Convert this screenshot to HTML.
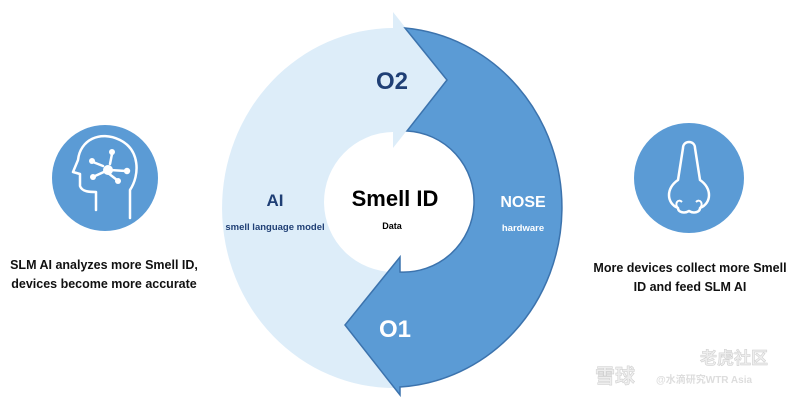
<!DOCTYPE html>
<html><head><meta charset="utf-8"><style>
html,body{margin:0;padding:0;background:#fff;}
svg{display:block;}
text{font-family:"Liberation Sans","Noto Sans CJK SC",sans-serif;font-weight:bold;}
</style></head><body>
<svg width="796" height="403" viewBox="0 0 796 403" xmlns="http://www.w3.org/2000/svg">
<rect width="796" height="403" fill="#fff"/>
<!-- light arrow -->
<path d="M393,28 L393,12 L447,80 L393,148 L393,132 A70 70 0 0 0 395,272 L395,388 A172 180 0 0 1 393,28 Z" fill="#ddedf9"/>
<!-- dark arrow -->
<path d="M405,28 L447,80 L407,131 A70 70 0 0 1 400,272 L400,257 L345,325 L400,395 L400,387 A172 180 0 0 0 405,28 Z" fill="#5b9bd5" stroke="#3c73ad" stroke-width="1.5"/>
<text x="392" y="89" font-size="24" fill="#1f3f75" text-anchor="middle">O2</text>
<text x="395" y="337" font-size="24" fill="#fff" text-anchor="middle">O1</text>
<text x="395" y="206" font-size="22" fill="#000" text-anchor="middle">Smell ID</text>
<text x="392" y="229" font-size="9" fill="#000" text-anchor="middle">Data</text>
<text x="275" y="206" font-size="17" fill="#1f3f75" text-anchor="middle">AI</text>
<text x="275" y="230" font-size="9.5" fill="#1f3f75" text-anchor="middle">smell language model</text>
<text x="523" y="207" font-size="16" fill="#fff" text-anchor="middle">NOSE</text>
<text x="523" y="231" font-size="9.5" fill="#fff" text-anchor="middle">hardware</text>
<!-- left circle -->
<circle cx="105" cy="178" r="53" fill="#5b9bd5"/>
<g fill="none" stroke="#fff" stroke-width="2.5" stroke-linecap="round" stroke-linejoin="round">
<path d="M130,218 L130,190 C140,175 140,150 120,140 C100,130 80,140 78,160 L73,172 L80,174 L80,186 C82,192 90,192 96,192 L96,210"/>
<path d="M110,164 L112,154 M110,170 L126,171 M106,171 L95,176 M103,166 L93,162 M108,173 L117,180"/>
</g>
<g fill="#fff"><circle cx="108" cy="170" r="5"/><circle cx="112" cy="152" r="3"/><circle cx="127" cy="171" r="3.2"/><circle cx="93" cy="177" r="3"/><circle cx="92" cy="161" r="3"/><circle cx="118" cy="181" r="3"/></g>
<!-- right circle -->
<circle cx="689" cy="178" r="55" fill="#5b9bd5"/>
<path d="M683,148 C683,140 695,140 695,148 L700,180 C712,188 712,203 700,208 C700,212 694,214 689,211 C684,214 678,212 678,208 C666,203 666,188 678,180 Z" fill="none" stroke="#fff" stroke-width="2.5" stroke-linejoin="round"/>
<path d="M678,208 C674,204 678,198 682,202 M700,208 C704,204 700,198 696,202" fill="none" stroke="#fff" stroke-width="2"/>
<text x="104" y="269" font-size="12.5" fill="#111" text-anchor="middle">SLM AI analyzes more Smell ID,</text>
<text x="104" y="288" font-size="12.5" fill="#111" text-anchor="middle">devices become more accurate</text>
<text x="690" y="272" font-size="12.5" fill="#111" text-anchor="middle">More devices collect more Smell</text>
<text x="690" y="291" font-size="12.5" fill="#111" text-anchor="middle">ID and feed SLM AI</text>
<!-- watermark -->
<text x="700" y="364" font-size="17" fill="#eee" stroke="#ccc" stroke-width="0.5" font-weight="normal">老虎社区</text>
<text x="595" y="383" font-size="20" fill="#eee" stroke="#ccc" stroke-width="0.5" font-weight="normal">雪球</text>
<text x="656" y="383" font-size="10" fill="#ddd" font-weight="normal">@水滴研究WTR Asia</text>
</svg>
</body></html>
